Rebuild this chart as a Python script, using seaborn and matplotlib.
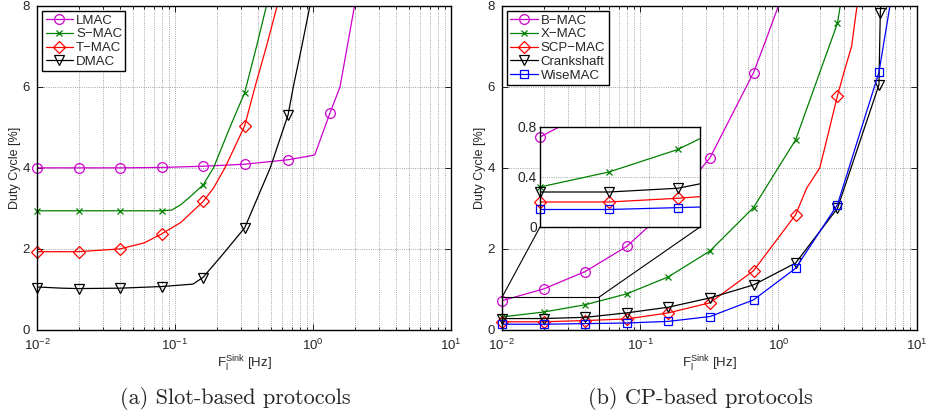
import numpy as np
import pandas as pd
import matplotlib
matplotlib.use("Agg")
import matplotlib.pyplot as plt
import seaborn as sns
from matplotlib.lines import Line2D
from matplotlib.patches import Rectangle, ConnectionPatch
from matplotlib.ticker import LogLocator, NullFormatter

# marker positions (Hz)
f_sink = [0.01, 0.02, 0.04, 0.08, 0.16, 0.32, 0.66, 1.33, 2.67, 5.33]

# (a) slot-based protocols
lmac_pts = [4.0, 4.0, 4.0, 4.01, 4.04, 4.09, 4.2, 5.36]
lmac_line_x = [0.01, 0.02, 0.04, 0.08, 0.16, 0.32, 0.66, 0.9, 1.03, 1.33, 1.57, 2.0]
lmac_line_y = [4.0, 4.0, 4.0, 4.01, 4.04, 4.09, 4.2, 4.28, 4.32, 5.36, 6.0, 8.0]

smac_pts = [2.94, 2.94, 2.94, 2.94, 3.58, 5.86]
smac_line_x = [0.01, 0.02, 0.04, 0.08, 0.095, 0.11, 0.13, 0.16, 0.19, 0.25, 0.32, 0.39, 0.46]
smac_line_y = [2.94, 2.94, 2.94, 2.94, 2.96, 3.09, 3.3, 3.58, 4.0, 5.0, 5.86, 7.0, 8.0]

tmac_pts = [1.93, 1.93, 2.0, 2.37, 3.17, 5.04]
tmac_line_x = [0.01, 0.02, 0.04, 0.06, 0.08, 0.11, 0.16, 0.19, 0.23, 0.32, 0.38, 0.46, 0.55]
tmac_line_y = [1.93, 1.93, 2.0, 2.15, 2.37, 2.65, 3.17, 3.5, 4.0, 5.04, 6.0, 7.0, 8.0]

dmac_pts = [1.04, 1.02, 1.03, 1.07, 1.28, 2.52, 5.31]
dmac_line_x = [0.01, 0.015, 0.02, 0.04, 0.08, 0.135, 0.16, 0.22, 0.32, 0.49, 0.66, 0.72, 0.83, 0.95]
dmac_line_y = [1.06, 1.03, 1.02, 1.03, 1.07, 1.13, 1.3, 1.85, 2.52, 4.0, 5.31, 6.0, 7.0, 8.0]

# (b) CP-based protocols
bmac_pts = [0.72, 1.01, 1.44, 2.06, 3.0, 4.25, 6.35]
bmac_line_x = [0.01, 0.02, 0.04, 0.08, 0.16, 0.32, 0.66, 0.8, 1.0]
bmac_line_y = [0.72, 1.01, 1.44, 2.06, 3.0, 4.25, 6.35, 7.1, 8.0]

xmac_pts = [0.32, 0.44, 0.62, 0.89, 1.31, 1.95, 3.02, 4.69, 7.57]
xmac_line_x = [0.01, 0.02, 0.04, 0.08, 0.16, 0.32, 0.66, 1.33, 2.67, 2.8]
xmac_line_y = [0.32, 0.44, 0.62, 0.89, 1.31, 1.95, 3.02, 4.69, 7.57, 8.0]

scp_pts = [0.2, 0.2, 0.23, 0.27, 0.42, 0.67, 1.46, 2.84, 5.78]
scp_line_x = [0.01, 0.02, 0.04, 0.08, 0.16, 0.32, 0.66, 1.33, 1.6, 1.99, 2.2, 2.67, 3.0, 3.38, 3.7]
scp_line_y = [0.2, 0.2, 0.23, 0.27, 0.42, 0.67, 1.46, 2.84, 3.5, 4.0, 4.6, 5.78, 6.4, 7.0, 8.0]

crank_x = [0.01, 0.02, 0.04, 0.08, 0.16, 0.32, 0.66, 1.33, 2.67, 5.33, 5.45]
crank_pts = [0.28, 0.28, 0.31, 0.42, 0.56, 0.79, 1.11, 1.65, 3.0, 6.05, 7.83]
crank_line_x = crank_x + [5.5]
crank_line_y = crank_pts + [8.0]

wise_pts = [0.14, 0.14, 0.155, 0.17, 0.21, 0.33, 0.74, 1.52, 3.09, 6.36]
wise_line_x = [0.01, 0.02, 0.04, 0.08, 0.16, 0.32, 0.66, 1.33, 2.67, 5.33, 6.4]
wise_line_y = [0.14, 0.14, 0.155, 0.17, 0.21, 0.33, 0.74, 1.52, 3.09, 6.36, 8.0]

MAG, GRN, RED, BLK, BLU = "#cc00cc", "#008000", "#ff0000", "#000000", "#0000ff"

sns.set_style("ticks")
plt.rcParams["font.family"] = ["Liberation Sans", "DejaVu Sans"]
plt.rcParams["mathtext.fontset"] = "custom"
plt.rcParams["mathtext.rm"] = "Liberation Sans"
plt.rcParams["mathtext.it"] = "Liberation Sans"
plt.rcParams["axes.linewidth"] = 1.0

fig = plt.figure(figsize=(9.26, 4.16), dpi=100)
ax1 = fig.add_axes([0.040, 0.207, 0.447, 0.779])
ax2 = fig.add_axes([0.542, 0.207, 0.448, 0.779])

left_series = [
    ("LMAC", MAG, "o", f_sink[:len(lmac_pts)], lmac_pts, lmac_line_x, lmac_line_y),
    ("S\u2212MAC", GRN, "x", f_sink[:len(smac_pts)], smac_pts, smac_line_x, smac_line_y),
    ("T\u2212MAC", RED, "D", f_sink[:len(tmac_pts)], tmac_pts, tmac_line_x, tmac_line_y),
    ("DMAC", BLK, "v", f_sink[:len(dmac_pts)], dmac_pts, dmac_line_x, dmac_line_y),
]
right_series = [
    ("B\u2212MAC", MAG, "o", f_sink[:len(bmac_pts)], bmac_pts, bmac_line_x, bmac_line_y),
    ("X\u2212MAC", GRN, "x", f_sink[:len(xmac_pts)], xmac_pts, xmac_line_x, xmac_line_y),
    ("SCP\u2212MAC", RED, "D", f_sink[:len(scp_pts)], scp_pts, scp_line_x, scp_line_y),
    ("Crankshaft", BLK, "v", crank_x, crank_pts, crank_line_x, crank_line_y),
    ("WiseMAC", BLU, "s", f_sink[:len(wise_pts)], wise_pts, wise_line_x, wise_line_y),
]

msize = {"o": 7, "x": 5, "D": 6, "v": 7, "s": 6}


def draw(ax, series, xmax=None, ymax=None):
    for name, c, m, mx, my, lx, ly in series:
        sns.lineplot(x=lx, y=ly, ax=ax, color=c, linewidth=0.9, sort=False,
                     estimator=None)
        pts = pd.DataFrame({"x": mx, "y": my})
        if xmax is not None:
            pts = pts[(pts.x <= xmax) & (pts.y <= ymax)]
        sns.lineplot(data=pts, x="x", y="y", ax=ax, linestyle="", marker=m,
                     markersize=msize[m], markerfacecolor="none",
                     markeredgecolor=c, markeredgewidth=0.9, color=c,
                     sort=False, estimator=None, clip_on=False)


def style(ax, series):
    ax.set_xscale("log")
    ax.set_xlim(0.01, 10)
    ax.set_ylim(0, 8)
    ax.set_yticks([0, 2, 4, 6, 8])
    ax.xaxis.set_minor_locator(LogLocator(base=10, subs=np.arange(2, 10)))
    ax.xaxis.set_minor_formatter(NullFormatter())
    ax.tick_params(which="both", direction="in", top=True, right=True,
                   labelsize=9.5, width=0.6, color="black")
    ax.tick_params(which="major", length=4)
    ax.tick_params(which="minor", length=2)
    ax.tick_params(axis="x", which="major", pad=6)
    ax.tick_params(axis="y", which="major", pad=5)
    ax.grid(which="major", axis="both", linestyle=":", color="#888888", linewidth=0.6)
    ax.grid(which="minor", axis="x", linestyle=":", color="#888888", linewidth=0.6)
    for s in ax.spines.values():
        s.set_color("black")
        s.set_linewidth(1.0)
    ax.set_xlabel(r"F$_\mathregular{l}^\mathregular{Sink}$ [Hz]", fontsize=9.5, labelpad=0)
    ax.set_ylabel("Duty Cycle [%]", fontsize=9, labelpad=1)
    handles = [Line2D([], [], color=c, marker=m, markersize=msize[m],
                      markerfacecolor="none", markeredgecolor=c,
                      markeredgewidth=0.9, linewidth=0.9)
               for name, c, m, *_ in series]
    leg = ax.legend(handles, [s[0] for s in series], loc="upper left",
                    fontsize=9.5, frameon=True, fancybox=False, framealpha=1,
                    edgecolor="black", borderaxespad=0.4, handlelength=2.1,
                    labelspacing=0.12, borderpad=0.25, handletextpad=0.2)
    leg.get_frame().set_linewidth(1.0)


draw(ax1, left_series)
style(ax1, left_series)
draw(ax2, right_series)
style(ax2, right_series)

# zoom window on the right plot
axin = fig.add_axes([540 / 926, 1 - 227 / 416, 160 / 926, 100 / 416])
draw(axin, right_series, xmax=0.05, ymax=0.8)
axin.set_xscale("log")
axin.set_xlim(0.01, 0.05)
axin.set_ylim(0, 0.8)
axin.set_yticks([0, 0.4, 0.8])
axin.set_yticklabels(["0", "0.4", "0.8"])
axin.xaxis.set_minor_locator(LogLocator(base=10, subs=np.arange(2, 10)))
axin.xaxis.set_major_formatter(NullFormatter())
axin.xaxis.set_minor_formatter(NullFormatter())
axin.tick_params(which="both", direction="in", labelsize=10, length=0, pad=2)
axin.grid(which="both", linestyle=":", color="#888888", linewidth=0.6)
axin.set_xlabel("")
axin.set_ylabel("")
axin.set_facecolor("white")
for s in axin.spines.values():
    s.set_color("black")
    s.set_linewidth(1.0)

ax2.add_patch(Rectangle((0.01, 0), 0.04, 0.8, fill=False, edgecolor="black",
                        linewidth=0.8, zorder=4))
for xc in (0.01, 0.05):
    con = ConnectionPatch(xyA=(xc, 0.8), coordsA=ax2.transData,
                          xyB=(xc, 0), coordsB=axin.transData,
                          color="black", linewidth=0.8)
    fig.add_artist(con)

fig.text(0.254, 0.043, "(a) Slot-based protocols", ha="center", va="center",
         family="cmr10", fontsize=16)
fig.text(0.756, 0.043, "(b) CP-based protocols", ha="center", va="center",
         family="cmr10", fontsize=16)

fig.savefig("out.png", dpi=100)
